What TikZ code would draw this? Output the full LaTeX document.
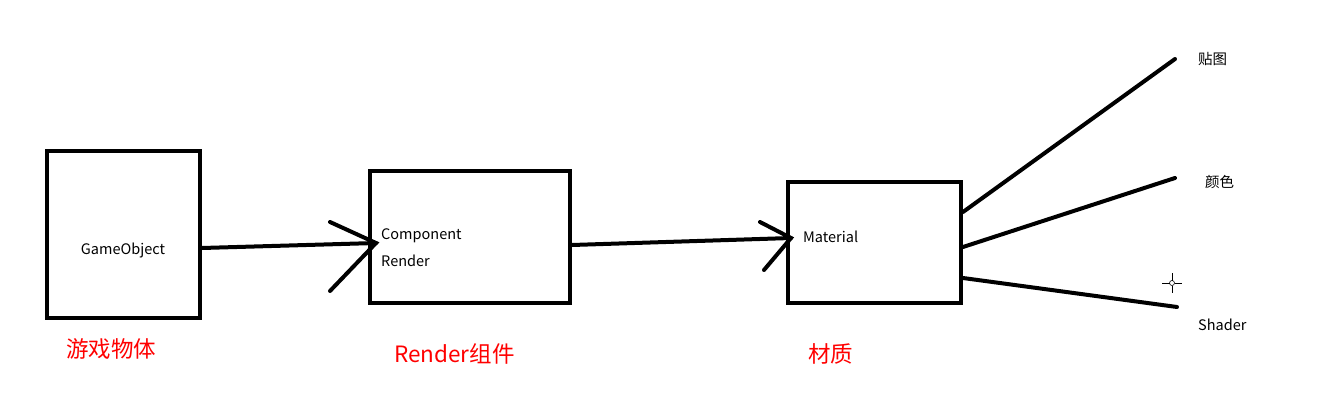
\documentclass[tikz,border=0pt]{standalone}
\usepackage{fontspec}
\setmainfont{Noto Sans CJK SC}
\usetikzlibrary{arrows.meta}

\begin{document}
\begin{tikzpicture}[x=1pt,y=-1pt]
    \tikzset{
      box/.style={draw=black, line width=4pt, inner sep=0pt},
      txt/.style={inner sep=0pt, font=\fontsize{14.5}{17}\selectfont},
      redtxt/.style={inner sep=0pt, text=red, font=\fontsize{22.5}{26}\selectfont},
      link/.style={line width=4pt, line cap=round}
    }
    \useasboundingbox (0,0) rectangle (1322,409);
    % boxes
    \node [box, minimum width=153pt, minimum height=167pt] (go) at (123.5,234.5) {};
    \node [box, minimum width=200pt, minimum height=132pt] (rd) at (470,237) {};
    \node [box, minimum width=173pt, minimum height=121pt] (mat) at (874.5,242.5) {};
    % texts in boxes
    \node [txt] (gotxt) at (123,250) {GameObject};
    \node [txt, anchor=west] (comp) at (381,236) {Component};
    \node [txt, anchor=west] (rend) at (381,261) {Render};
    \node [txt, anchor=west] (mattxt) at (803,237) {Material};
    % arrows, heads drawn by hand
    \coordinate (tip1) at ([xshift=8pt,yshift=-6pt]rd.west);
    \coordinate (tip2) at ([xshift=5pt,yshift=4.5pt]mat.west);
    \draw [link] ([yshift=-13.5pt]go.east) -- (tip1);
    \draw [link] ([shift={(-46pt,21pt)}]tip1) -- (tip1) -- ([shift={(-46pt,-48pt)}]tip1);
    \draw [link] ([yshift=-8pt]rd.east) -- (tip2);
    \draw [link] ([shift={(-31pt,16pt)}]tip2) -- (tip2) -- ([shift={(-27pt,-32pt)}]tip2);
    % properties of the material
    \coordinate (tex) at (1175,59);
    \coordinate (col) at (1175,178);
    \coordinate (shd) at (1177,307);
    \draw [link] ([yshift=30.5pt]mat.east) -- (tex);
    \draw [link] ([yshift=-4.5pt]mat.east) -- (col);
    \draw [link] ([yshift=-35.5pt]mat.east) -- (shd);
    \node [txt, anchor=west] (textxt) at (1198,59) {贴图};
    \node [txt, anchor=west] (coltxt) at (1205,182) {颜色};
    \node [txt, anchor=west] (shdtxt) at (1198,325) {Shader};
    % cursor mark
    \draw [line width=0.8pt] (1162,283) -- (1169.5,283) (1174.5,283) -- (1182,283)
          (1172,273) -- (1172,280.5) (1172,285.5) -- (1172,293);
    \draw [line width=0.6pt] (1172,283) circle (2.5);
    % red captions
    \node [redtxt, anchor=west] (golbl) at (66,349) {游戏物体};
    \node [redtxt, anchor=west] (rdlbl) at (394,354) {Render组件};
    \node [redtxt, anchor=west] (matlbl) at (808,354) {材质};
\end{tikzpicture}
\end{document}
